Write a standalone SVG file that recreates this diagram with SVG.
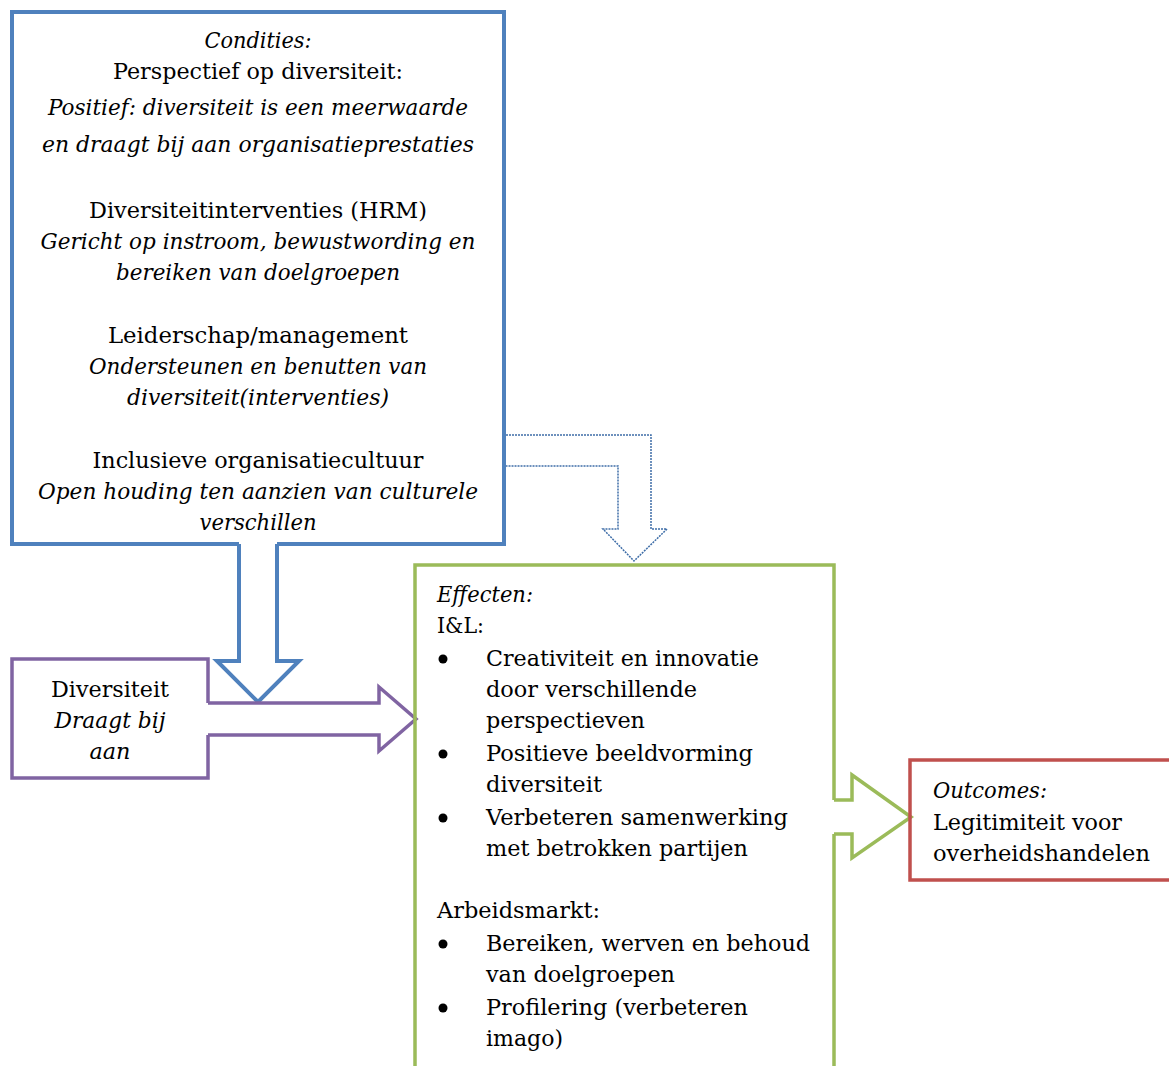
<svg xmlns="http://www.w3.org/2000/svg" width="1169" height="1066" viewBox="0 0 1169 1066">
  <style>
    text { font-family: "DejaVu Serif", "Liberation Serif", serif; font-size: 22px; fill: #000; }
    .i { font-style: italic; }
    .c { text-anchor: middle; }
    .box { fill: none; stroke-linejoin: miter; }
    .blue { stroke: #4F81BD; stroke-width: 4; }
    .purple { stroke: #8064A2; stroke-width: 3.5; }
    .green { stroke: #9BBB59; stroke-width: 3.5; }
    .red { stroke: #C0504D; stroke-width: 3.5; }
    .arrow { fill: #fff; stroke-linejoin: miter; }
    .dotted { fill: #fff; stroke: #3F6EA8; stroke-width: 1.5; stroke-dasharray: 2 1; }
    .bullet { fill: #000; }
  </style>

  <rect width="1169" height="1066" fill="#fff"/>

  <!-- Connectors: block arrows -->
  <g id="connectors">
    <path id="arrow-condities-diversiteit" class="arrow blue" d="M239,544 V661 H217 L258,702 L299,661 H277 V544"/>
    <path id="arrow-condities-effecten" class="dotted" d="M503,435 H651 V529 H667 L634,561 L603,529 H618 V466 H503"/>
    <path id="arrow-diversiteit-effecten" class="arrow purple" d="M208,703 H379 V687 L416,719 L379,751 V735 H208"/>
    <path id="arrow-effecten-outcomes" class="arrow green" d="M834,800 H852 V775 L911,817 L852,858 V834 H834"/>
  </g>

  <!-- Condities -->
  <g id="node-condities">
    <path class="box blue" d="M239,544 H12 V12 H504 V544 H277"/>
    <text class="c i" x="258" y="48" textLength="107" lengthAdjust="spacingAndGlyphs">Condities:</text>
    <text class="c" x="258" y="79" textLength="290" lengthAdjust="spacingAndGlyphs">Perspectief op diversiteit:</text>
    <text class="c i" x="258" y="115" textLength="420" lengthAdjust="spacingAndGlyphs">Positief: diversiteit is een meerwaarde</text>
    <text class="c i" x="258" y="152" textLength="432" lengthAdjust="spacingAndGlyphs">en draagt bij aan organisatieprestaties</text>
    <text class="c" x="258" y="218" textLength="338" lengthAdjust="spacingAndGlyphs">Diversiteitinterventies (HRM)</text>
    <text class="c i" x="258" y="249" textLength="435" lengthAdjust="spacingAndGlyphs">Gericht op instroom, bewustwording en</text>
    <text class="c i" x="258" y="280" textLength="284" lengthAdjust="spacingAndGlyphs">bereiken van doelgroepen</text>
    <text class="c" x="258" y="343" textLength="300" lengthAdjust="spacingAndGlyphs">Leiderschap/management</text>
    <text class="c i" x="258" y="374" textLength="338" lengthAdjust="spacingAndGlyphs">Ondersteunen en benutten van</text>
    <text class="c i" x="258" y="405" textLength="262" lengthAdjust="spacingAndGlyphs">diversiteit(interventies)</text>
    <text class="c" x="258" y="468" textLength="331" lengthAdjust="spacingAndGlyphs">Inclusieve organisatiecultuur</text>
    <text class="c i" x="258" y="499" textLength="440" lengthAdjust="spacingAndGlyphs">Open houding ten aanzien van culturele</text>
    <text class="c i" x="258" y="530" textLength="117" lengthAdjust="spacingAndGlyphs">verschillen</text>
  </g>

  <!-- Diversiteit -->
  <g id="node-diversiteit">
    <path class="box purple" d="M208,703 V659 H12 V778 H208 V735"/>
    <text class="c" x="110" y="697" textLength="118" lengthAdjust="spacingAndGlyphs">Diversiteit</text>
    <text class="c i" x="110" y="728" textLength="111" lengthAdjust="spacingAndGlyphs">Draagt bij</text>
    <text class="c i" x="110" y="759" textLength="41" lengthAdjust="spacingAndGlyphs">aan</text>
  </g>

  <!-- Effecten -->
  <g id="node-effecten">
    <path class="box green" d="M415,1070 V565 H834 V800 M834,834 V1070"/>
    <text class="i" x="437" y="602" textLength="96" lengthAdjust="spacingAndGlyphs">Effecten:</text>
    <text x="437" y="633" textLength="47" lengthAdjust="spacingAndGlyphs">I&amp;L:</text>
    <circle class="bullet" cx="443" cy="659" r="4.5"/>
    <text x="486" y="666" textLength="273" lengthAdjust="spacingAndGlyphs">Creativiteit en innovatie</text>
    <text x="486" y="697" textLength="211" lengthAdjust="spacingAndGlyphs">door verschillende</text>
    <text x="486" y="728" textLength="159" lengthAdjust="spacingAndGlyphs">perspectieven</text>
    <circle class="bullet" cx="443" cy="754" r="4.5"/>
    <text x="486" y="761" textLength="267" lengthAdjust="spacingAndGlyphs">Positieve beeldvorming</text>
    <text x="486" y="792" textLength="116" lengthAdjust="spacingAndGlyphs">diversiteit</text>
    <circle class="bullet" cx="443" cy="818" r="4.5"/>
    <text x="486" y="825" textLength="302" lengthAdjust="spacingAndGlyphs">Verbeteren samenwerking</text>
    <text x="486" y="856" textLength="262" lengthAdjust="spacingAndGlyphs">met betrokken partijen</text>
    <text x="437" y="918" textLength="163" lengthAdjust="spacingAndGlyphs">Arbeidsmarkt:</text>
    <circle class="bullet" cx="443" cy="944" r="4.5"/>
    <text x="486" y="951" textLength="324" lengthAdjust="spacingAndGlyphs">Bereiken, werven en behoud</text>
    <text x="486" y="982" textLength="189" lengthAdjust="spacingAndGlyphs">van doelgroepen</text>
    <circle class="bullet" cx="443" cy="1008" r="4.5"/>
    <text x="486" y="1015" textLength="262" lengthAdjust="spacingAndGlyphs">Profilering (verbeteren</text>
    <text x="486" y="1046" textLength="77" lengthAdjust="spacingAndGlyphs">imago)</text>
  </g>

  <!-- Outcomes -->
  <g id="node-outcomes">
    <path class="box red" d="M1175,760 H910 V880 H1175"/>
    <text class="i" x="933" y="798" textLength="114" lengthAdjust="spacingAndGlyphs">Outcomes:</text>
    <text x="933" y="830" textLength="189" lengthAdjust="spacingAndGlyphs">Legitimiteit voor</text>
    <text x="933" y="861" textLength="217" lengthAdjust="spacingAndGlyphs">overheidshandelen</text>
  </g>
</svg>
